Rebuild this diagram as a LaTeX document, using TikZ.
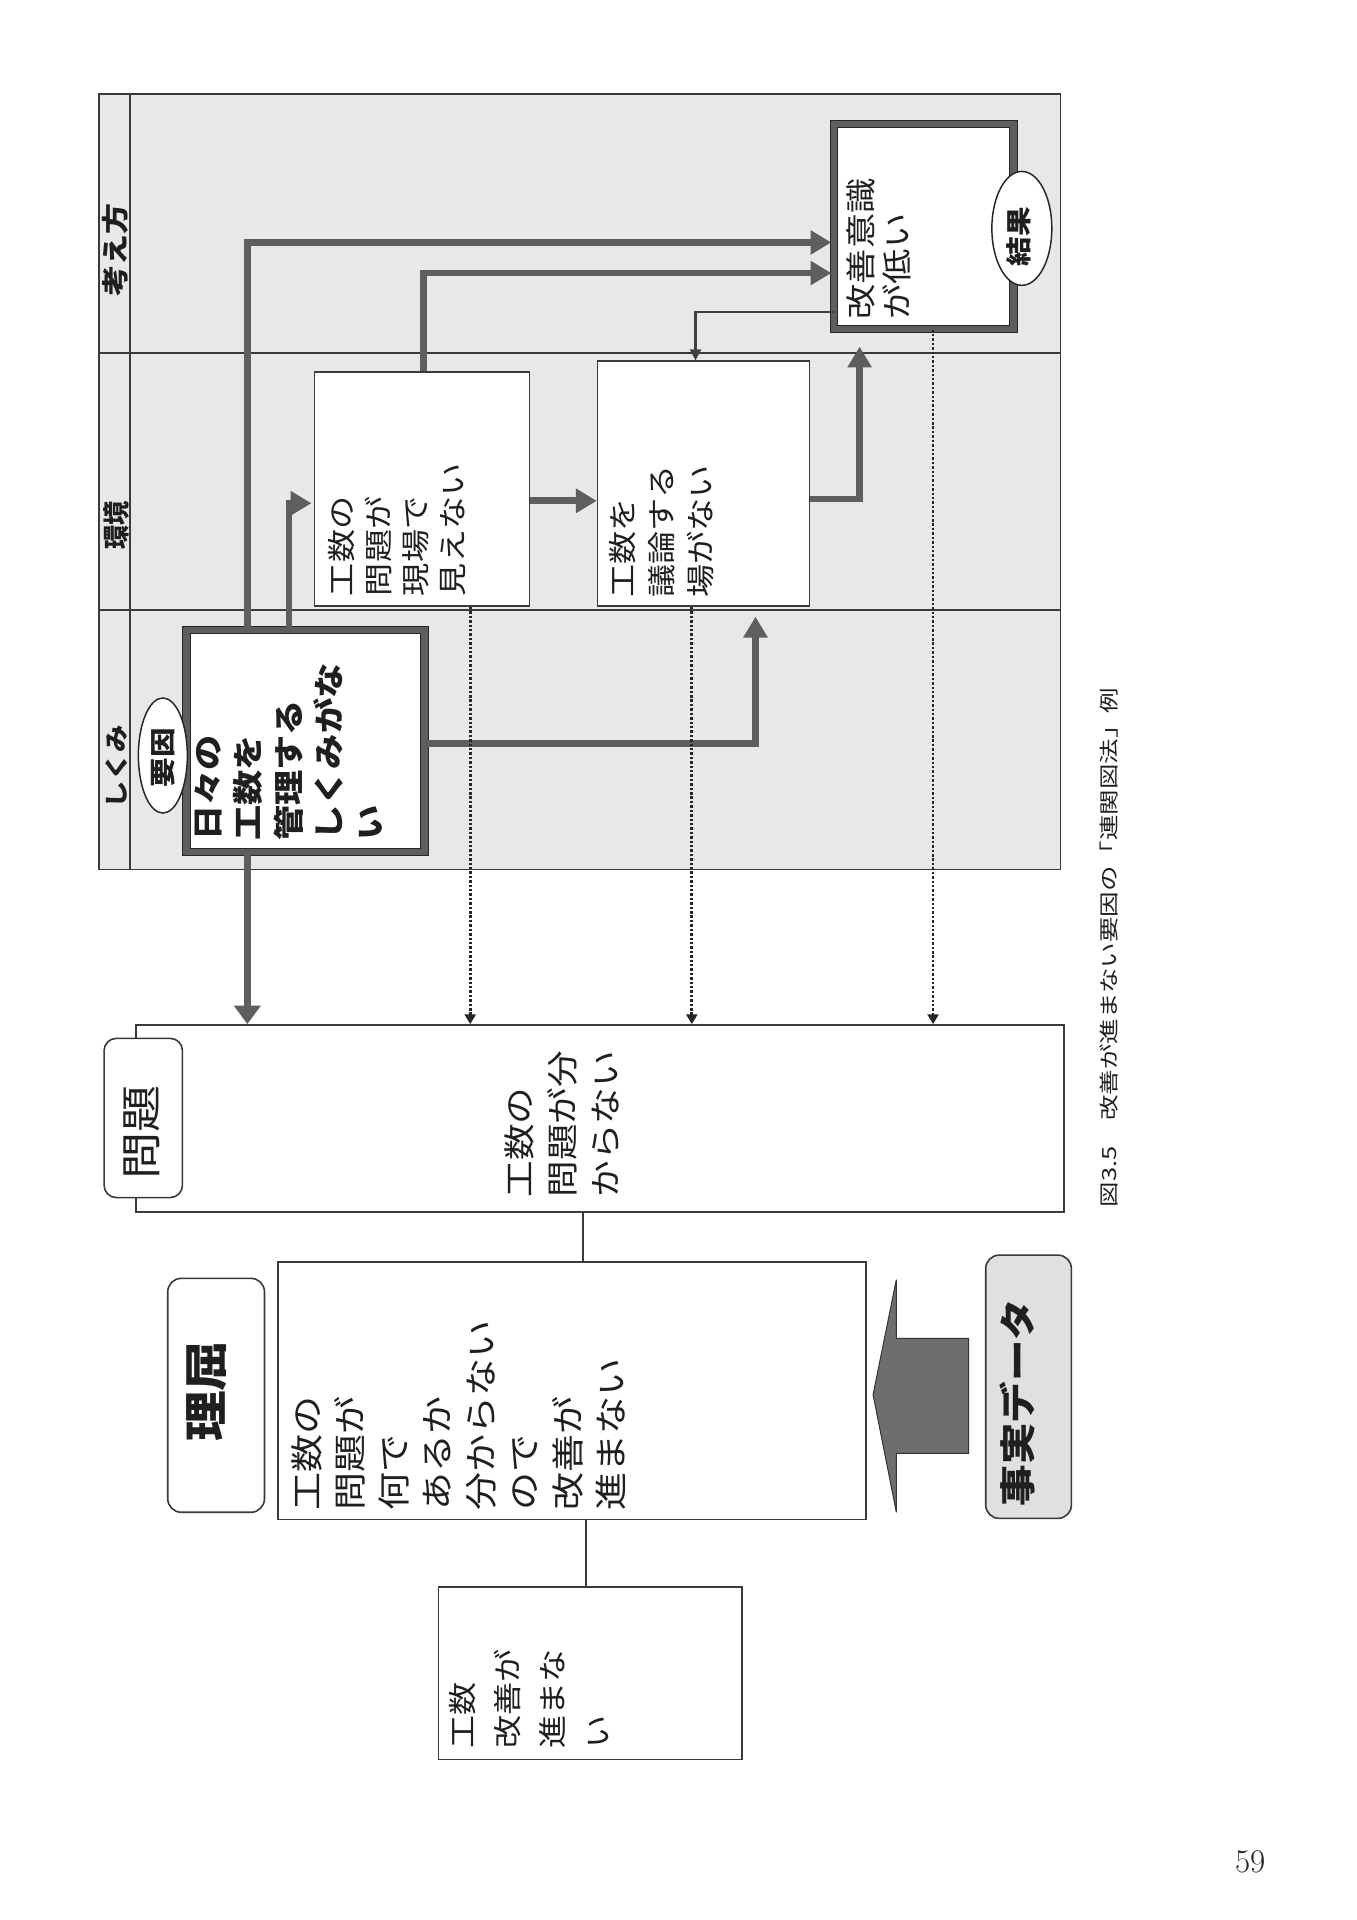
\documentclass[tikz,border=0pt]{standalone}
\usepackage{fontspec}
\newfontfamily\jp{Noto Sans CJK JP}[FakeStretch=1.15]
\newfontfamily\jpcap{Noto Sans CJK JP}[FakeStretch=1.3]
\usetikzlibrary{arrows.meta,shapes.geometric,calc}
\definecolor{lanebg}{HTML}{E8E8E8}
\definecolor{arrowgray}{HTML}{5E5E5E}
\definecolor{framec}{HTML}{3A3A3A}
\definecolor{factbg}{HTML}{E0E0E0}
\begin{document}
\begin{tikzpicture}[x=1pt,y=-1pt,
  frame/.style={draw=framec,line width=1.4pt},
  thickbox/.style={rectangle,draw=black!85,line width=0.8pt,double=arrowgray,double distance=5pt,fill=white,inner sep=0pt},
  thinbox/.style={rectangle,draw=framec,line width=1.3pt,fill=white,inner sep=0pt},
  labelbox/.style={rectangle,rounded corners=11pt,draw=framec,line width=1.3pt,fill=white,inner sep=0pt},
  tag/.style={ellipse,draw=black!85,line width=1.2pt,fill=white,inner sep=0pt},
  jt/.style={rotate=90,inner sep=0pt,text=black!88},
  jl/.style={jt,anchor=north west,align=left},
  bigarrow/.style={draw=arrowgray,line width=5.5pt,-{Triangle[length=17pt,width=19pt]}},
  thinarrow/.style={draw=black!75,line width=1.8pt,-{Triangle[length=9pt,width=9pt]}},
  dotarrow/.style={draw=black!85,line width=2.2pt,dash pattern=on 2pt off 1.6pt,-{Triangle[length=8pt,width=9pt]}},
  conn/.style={draw=framec,line width=1.6pt}
]
\useasboundingbox[fill=white] (0,0) rectangle (1108,1568);

% swimlanes
\fill[lanebg] (81,77) rectangle (866,710);
\draw[frame] (81,77) rectangle (866,710);
\draw[frame] (106,77) -- (106,710);
\draw[frame] (81,288) -- (866,288);
\draw[frame] (81,498) -- (866,498);
\node[jt,font=\jp\bfseries\fontsize{22}{22}\selectfont] (lane1) at (94.5,204.5) {考え方};
\node[jt,font=\jp\bfseries\fontsize{22}{22}\selectfont] (lane2) at (95,429) {\scalebox{0.78}[1]{環境}};
\node[jt,font=\jp\bfseries\fontsize{19.5}{19.5}\selectfont] (lane3) at (95,626) {しくみ};

% boxes in lanes
\node[thickbox,minimum width=194.4pt,minimum height=181.4pt] (b1) at (249.5,605) {};
\node[thinbox,minimum width=175.5pt,minimum height=191pt] (b2) at (344.75,399.5) {};
\node[thinbox,minimum width=173pt,minimum height=200pt] (b3) at (574.5,395) {};
\node[thickbox,minimum width=146.4pt,minimum height=167.4pt] (b4) at (754.5,185) {};

\node[jl,font=\jp\bfseries\fontsize{25}{33}\selectfont] (t1) at (159,687) {日々の\\工数を\\管理する\\しくみがな\\い};
\node[jl,font=\jp\fontsize{23.5}{30.3}\selectfont] (t2) at (268,487) {工数の\\問題が\\現場で\\見えない};
\node[jl,font=\jp\fontsize{23.5}{32}\selectfont] (t3) at (497,488) {工数を\\議論する\\場がない};
\node[jl,font=\jp\fontsize{25}{30}\selectfont] (t4) at (691,261) {改善意識\\が低い};

\node[tag,minimum width=40pt,minimum height=94pt] (e1) at (133,617) {};
\node[jt,font=\jp\bfseries\fontsize{21}{21}\selectfont] (e1t) at (133.5,619) {要因};
\node[tag,minimum width=49pt,minimum height=93pt] (e2) at (834.5,186.5) {};
\node[jt,font=\jp\bfseries\fontsize{21}{21}\selectfont] (e2t) at (832,193.5) {結果};

% routing coordinates
\coordinate (xA) at (202,0);   \coordinate (yA) at (0,198);
\coordinate (xB) at (236,0);   \coordinate (yB) at (0,411);
\coordinate (xC) at (345.6,0); \coordinate (yC) at (0,223);
\coordinate (yD) at (0,409);
\coordinate (xE) at (702,0);   \coordinate (yE) at (0,407.6);
\coordinate (xF) at (617,0);   \coordinate (yF) at (0,607);
\coordinate (xG) at (568,0);   \coordinate (yG) at (0,254.6);
\coordinate (xd1) at (384,0);  \coordinate (xd2) at (565,0); \coordinate (xd3) at (762,0);
\coordinate (xc1) at (476.5,0); \coordinate (xc2) at (478.5,0);

\draw[bigarrow,shorten >=2pt] (b1.north -| xA) |- (b4.west |- yA);
\draw[bigarrow,shorten >=2pt] (b1.north -| xB) |- (b2.west |- yB);
\draw[bigarrow,shorten >=2pt] (b2.north -| xC) |- (b4.west |- yC);
\draw[bigarrow] (b2.east |- yD) -- (b3.west |- yD);
\draw[bigarrow,shorten >=14pt] (b3.east |- yE) -| (b4.south -| xE);
\draw[bigarrow,shorten >=8pt] (b1.east |- yF) -| (b3.south -| xF);
\draw[thinarrow] (b4.west |- yG) -| (b3.north -| xG);

% lower part
\node[thinbox,minimum width=758pt,minimum height=153pt] (pb) at (490,913.5) {};
\node[thinbox,minimum width=480pt,minimum height=210.5pt] (rb) at (467,1135.75) {};
\node[thinbox,minimum width=248pt,minimum height=141pt] (kb) at (482,1366.5) {};

\draw[draw=arrowgray,line width=5.5pt,-{Triangle[length=15pt,width=21pt]}] (b1.south -| xA) -- (pb.north -| xA);
\draw[dotarrow] (b2.south -| xd1) -- (pb.north -| xd1);
\draw[dotarrow] (b3.south -| xd2) -- (pb.north -| xd2);
\draw[dotarrow] (b4.south -| xd3) -- (pb.north -| xd3);

\draw[conn] (pb.south -| xc1) -- (rb.north -| xc1);
\draw[conn] (rb.south -| xc2) -- (kb.north -| xc2);

\node[labelbox,rounded corners=10pt,minimum width=64pt,minimum height=130pt] (pl) at (117,913) {};
\node[jt,font=\jp\fontsize{33.5}{33.5}\selectfont] (plt) at (116,924.5) {問題};
\node[labelbox,minimum width=79pt,minimum height=191pt] (rl) at (176.5,1139.5) {};
\node[jt,font=\jp\bfseries\fontsize{36}{36}\selectfont] (rlt) at (169,1136) {理屈};
\node[labelbox,fill=factbg,minimum width=70pt,minimum height=215pt] (fl) at (840,1132.5) {};
\node[jt,font=\jp\bfseries\fontsize{29.5}{29.5}\selectfont] (flt) at (831,1145.5) {事実データ};

\node[jl,font=\jp\fontsize{26}{35}\selectfont] (tp) at (412,978) {工数の\\問題が分\\からない};
\node[jl,font=\jp\fontsize{27}{35.5}\selectfont] (tr) at (238,1234) {工数の\\問題が\\何で\\あるか\\分からない\\ので\\改善が\\進まない};
\node[jl,font=\jp\fontsize{23.5}{36.7}\selectfont] (tk) at (367,1428) {工数\\改善が\\進まな\\い};

% fact-data block arrow
\filldraw[fill=arrowgray!90,draw=black!80,line width=0.8pt]
  (713,1139) -- (732,1045) -- (732,1093) -- (791,1093) -- (791,1187) -- (732,1187) -- (732,1235) -- cycle;

% caption and page number
\node[jt,anchor=north west,font=\jpcap\fontsize{16}{20}\selectfont] (cap) at (898,986) {図3.5　改善が進まない要因の「連関図法」例};
\node[inner sep=0pt,font=\fontsize{27}{27}\selectfont,text=black!85] (pg) at (1021,1520.5) {59};
\end{tikzpicture}
\end{document}
